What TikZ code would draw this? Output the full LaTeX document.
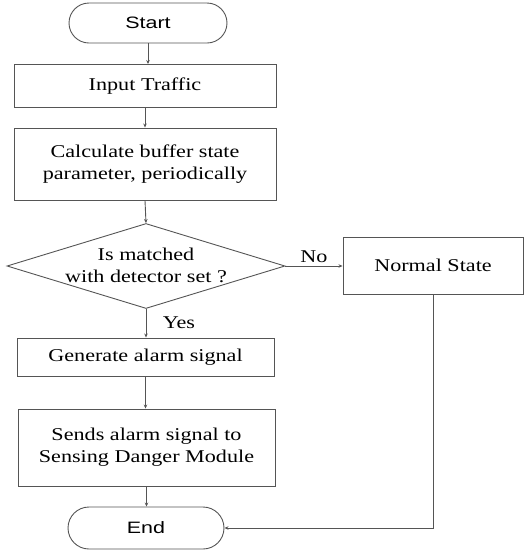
\documentclass[tikz,border=0pt]{standalone}
\usepackage{fontspec}
\setmainfont{Liberation Serif}[FakeStretch=1.23]
\newfontfamily\arialfont{Liberation Sans}[FakeStretch=1.3]
\usetikzlibrary{shapes.geometric,shapes.misc,arrows.meta}
\definecolor{linecol}{RGB}{85,85,85}
\tikzset{
  box/.style={draw=linecol, line width=0.9pt, rectangle, inner sep=0pt, align=center,
    font=\fontsize{18}{22}\selectfont},
  term/.style={draw=linecol, line width=0.9pt, rounded rectangle, inner sep=0pt,
    font=\arialfont\fontsize{16.5}{20}\selectfont},
  conn/.style={draw=linecol, line width=0.9pt, -{Stealth[length=4pt,width=3.5pt]}},
  lbl/.style={font=\fontsize{18}{22}\selectfont, inner sep=0pt}
}
\begin{document}
\begin{tikzpicture}[x=1pt,y=-1pt]
\useasboundingbox (0,0) rectangle (531,550);
\node[term, minimum width=158, minimum height=40] (start) at (148,23) {Start};
\node[box, minimum width=262, minimum height=43] (input) at (145,86) {Input Traffic};
\node[box, minimum width=262, minimum height=72] (calc) at (145,164) {Calculate buffer state\\parameter, periodically};
\node[diamond, draw=linecol, line width=0.9pt, minimum width=278, minimum height=85, inner sep=0pt] (dec) at (146,266) {};
\node[lbl, align=center] (dectext) at (146,265) {Is matched\\with detector set ?};
\node[box, minimum width=180, minimum height=57] (normal) at (433,265.5) {Normal State};
\node[box, minimum width=257, minimum height=38] (gen) at (145.5,357) {Generate alarm signal};
\node[box, minimum width=257, minimum height=77] (sends) at (146.5,447.5) {Sends alarm signal to\\Sensing Danger Module};
\node[term, minimum width=156, minimum height=42] (end) at (146,528) {End};
\node[lbl] (no) at (314,257) {No};
\node[lbl] (yes) at (179,323) {Yes};
\coordinate (corner) at (normal.south |- end.east);

\draw[conn] (start.south) -- (start.south |- input.north);
\draw[conn] (input.south) -- (input.south |- calc.north);
\draw[conn] (calc.south) -- (dec.north);
\draw[conn] (dec.east) -- (dec.east -| normal.west);
\draw[conn] (dec.south) -- (dec.south |- gen.north);
\draw[conn] (gen.south) -- (gen.south |- sends.north);
\draw[conn] (sends.south) -- (sends.south |- end.north);
\draw[conn] (normal.south) -- (corner) -- (end.east);
\end{tikzpicture}
\end{document}
